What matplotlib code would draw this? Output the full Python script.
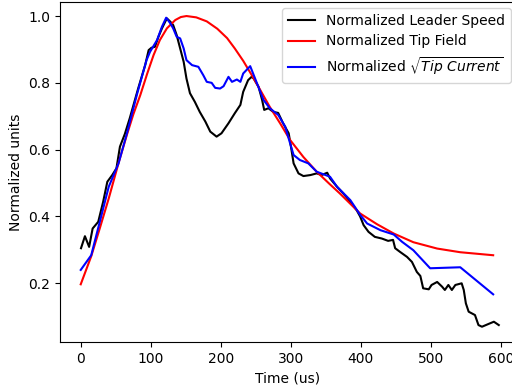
import matplotlib
matplotlib.use("Agg")
import matplotlib.pyplot as plt

# Normalized leader speed (black)
speed_t = [0.4, 6, 12, 17, 25, 32, 38, 45, 51, 56, 63, 70, 82, 92, 97, 101, 106, 111,
           116, 123, 128, 132, 137, 142, 147, 151, 156, 163, 170, 178, 185, 194, 201,
           211, 220, 228, 232, 239, 244, 247, 254, 259, 262, 268, 275, 282, 289, 297,
           301, 304, 311, 318, 328, 337, 344, 352, 356, 366, 375, 385, 394, 399, 404,
           411, 420, 430, 439, 446, 449, 456, 466, 473, 480, 485, 489, 497, 501, 509,
           516, 520, 525, 530, 535, 544, 547, 550, 554, 563, 568, 573, 582, 590, 597]
speed = [0.305, 0.341, 0.309, 0.364, 0.384, 0.444, 0.504, 0.524, 0.544, 0.609, 0.647,
         0.694, 0.783, 0.853, 0.898, 0.905, 0.908, 0.938, 0.963, 0.993, 0.983, 0.973,
         0.943, 0.903, 0.863, 0.813, 0.769, 0.743, 0.713, 0.684, 0.654, 0.639, 0.649,
         0.679, 0.709, 0.734, 0.773, 0.808, 0.818, 0.813, 0.788, 0.749, 0.719, 0.724,
         0.713, 0.710, 0.679, 0.649, 0.599, 0.559, 0.529, 0.521, 0.524, 0.529, 0.524,
         0.531, 0.514, 0.489, 0.469, 0.444, 0.419, 0.400, 0.374, 0.354, 0.339, 0.334,
         0.327, 0.330, 0.305, 0.294, 0.279, 0.264, 0.234, 0.222, 0.185, 0.182, 0.195,
         0.204, 0.190, 0.180, 0.195, 0.180, 0.195, 0.200, 0.180, 0.140, 0.115, 0.105,
         0.075, 0.070, 0.078, 0.085, 0.075]

# Normalized tip field (red)
field_t = [0, 15, 28, 40, 54, 66, 75, 85, 95, 104, 113, 123, 135, 143, 151, 165, 180,
           195, 209, 220, 232, 244, 256, 270, 285, 299, 318, 337, 355, 370, 385, 399,
           423, 447, 475, 509, 542, 589]
field = [0.197, 0.281, 0.370, 0.454, 0.560, 0.645, 0.705, 0.763, 0.828, 0.883, 0.928,
         0.963, 0.988, 0.997, 1.0, 0.996, 0.984, 0.962, 0.934, 0.903, 0.866, 0.824,
         0.780, 0.728, 0.678, 0.629, 0.578, 0.534, 0.498, 0.469, 0.438, 0.409, 0.377,
         0.349, 0.323, 0.304, 0.293, 0.284]

# Normalized sqrt(tip current) (blue)
current_t = [0, 15, 40, 54, 66, 80, 94, 99, 109, 116, 122, 128, 132, 137, 142, 147,
             151, 159, 168, 175, 180, 187, 192, 199, 204, 211, 216, 223, 228, 232, 242,
             249, 261, 270, 282, 292, 299, 304, 313, 325, 337, 356, 366, 385, 399, 409,
             428, 447, 459, 475, 499, 542, 589]
current = [0.240, 0.284, 0.489, 0.559, 0.649, 0.763, 0.868, 0.893, 0.928, 0.968, 0.995,
           0.978, 0.963, 0.938, 0.933, 0.903, 0.868, 0.853, 0.848, 0.823, 0.803, 0.800,
           0.785, 0.783, 0.790, 0.818, 0.803, 0.810, 0.803, 0.828, 0.850, 0.813, 0.749,
           0.724, 0.704, 0.669, 0.619, 0.584, 0.569, 0.559, 0.534, 0.519, 0.489, 0.449,
           0.405, 0.379, 0.359, 0.346, 0.324, 0.299, 0.245, 0.248, 0.167]

fig = plt.figure(figsize=(5.12, 3.92), dpi=100)
ax = fig.add_axes([60 / 512, 50 / 392, 456 / 512, 340 / 392])

ax.plot(speed_t, speed, color="black", lw=1.5, label="Normalized Leader Speed")
ax.plot(field_t, field, color="red", lw=1.5, label="Normalized Tip Field")
ax.plot(current_t, current, color="blue", lw=1.5, label=r"Normalized $\sqrt{Tip\ Current}$")

ax.set_xlim(-29.6, 621.6)
ax.set_ylim(0.0243, 1.042)
ax.set_xticks([0, 100, 200, 300, 400, 500, 600])
ax.set_yticks([0.2, 0.4, 0.6, 0.8, 1.0])
ax.set_xlabel("Time (us)")
ax.set_ylabel("Normalized units")

ax.legend(loc="upper right", bbox_to_anchor=(511 / 512, 1 - 8 / 392),
          bbox_transform=fig.transFigure, borderaxespad=0)

fig.savefig("out.png", dpi=100)
